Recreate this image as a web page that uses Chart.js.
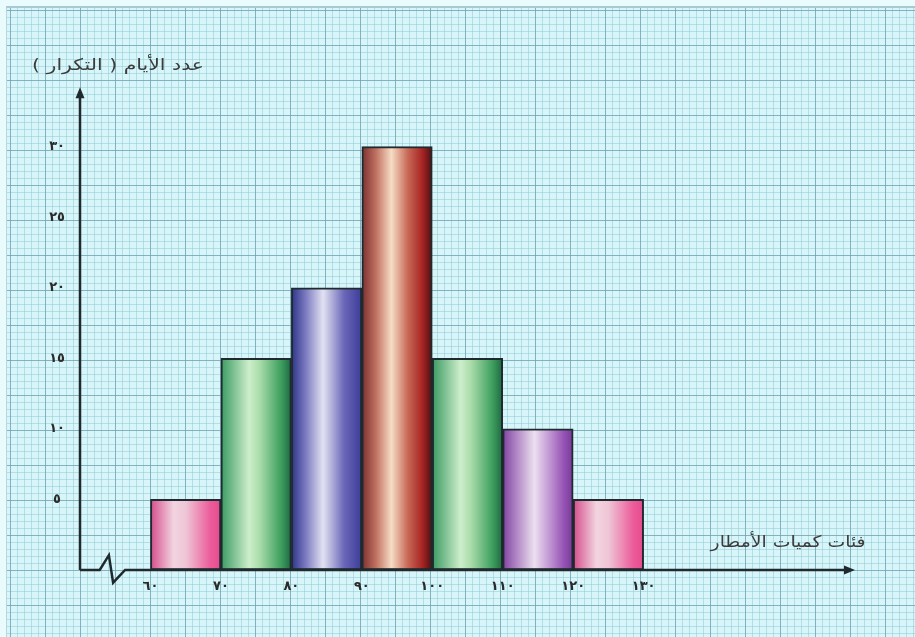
<!DOCTYPE html>
<html lang="ar">
<head>
<meta charset="utf-8">
<script src="https://cdn.jsdelivr.net/npm/chart.js@4.4.1/dist/chart.umd.min.js"></script>
<style>
  html, body { margin: 0; padding: 0; }
  body { width: 915px; height: 637px; overflow: hidden; background: #eafbfd; position: relative; }
  #paper {
    position: absolute; left: 6px; top: 6px; right: 0; bottom: 0;
    border-top: 2px solid #a9c9d1; border-left: 1px solid #b8d6dc;
    background-color: #d8f5f9;
    background-image:
      linear-gradient(to right, rgba(110,160,175,0.7) 1px, transparent 1px),
      linear-gradient(to bottom, rgba(110,160,175,0.7) 1px, transparent 1px),
      linear-gradient(to right, rgba(140,200,212,0.5) 1px, transparent 1px),
      linear-gradient(to bottom, rgba(140,200,212,0.5) 1px, transparent 1px);
    background-size: 35px 35px, 35px 35px, 7px 7px, 7px 7px;
    background-position: 3px 2px, 3px 2px, 3px 2px, 3px 2px;
  }
  #c { position: absolute; left: 0; top: 0; }
</style>
</head>
<body>
<div id="paper"></div>
<canvas id="c" width="915" height="637"></canvas>
<script>
// ---- data ----
const classStarts = [60, 70, 80, 90, 100, 110, 120];
const classWidth = 10;
const frequencies = [5, 15, 20, 30, 15, 10, 5];
const xTickValues = [60, 70, 80, 90, 100, 110, 120, 130];
const yTickValues = [5, 10, 15, 20, 25, 30];
const yTitle = 'عدد الأيام ( التكرار )';
const xTitle = 'فئات كميات الأمطار';

// ---- styles ----
const arabicDigits = ['٠','١','٢','٣','٤','٥','٦','٧','٨','٩'];
const toArabic = n => String(n).replace(/[0-9]/g, d => arabicDigits[+d]);
const pink = [[0,'#d64c8c'],[0.33,'#f2d4e0'],[0.5,'#efc6d6'],[0.85,'#ec5c9b'],[1,'#e64a8c']];
const green = [[0,'#3a9a62'],[0.4,'#cdeecb'],[0.55,'#a9dcaa'],[0.85,'#3fa05f'],[1,'#1d6842']];
const blue = [[0,'#2c3486'],[0.2,'#7a78c0'],[0.45,'#e2e2f2'],[0.75,'#6a66b8'],[1,'#3c3c98']];
const red = [[0,'#7a3030'],[0.2,'#c07060'],[0.42,'#f6dcc4'],[0.65,'#c86a58'],[0.86,'#a82424'],[1,'#4a1010']];
const purple = [[0,'#8242a2'],[0.45,'#ecdff0'],[0.85,'#9a58b8'],[1,'#763896']];
const barStops = [pink, green, blue, red, green, purple, pink];
const inkColor = '#1e2a2e';
const fontFamily = '"DejaVu Sans", sans-serif';

const points = classStarts.map((s, i) => ({ x: s + classWidth / 2, y: frequencies[i] }));

function barGradient(context) {
  const chart = context.chart;
  const i = context.dataIndex;
  const stops = barStops[i] || pink;
  if (!chart.chartArea || i === undefined) return stops[1][1];
  const xs = chart.scales.x;
  const l = xs.getPixelForValue(classStarts[i]);
  const r = xs.getPixelForValue(classStarts[i] + classWidth);
  const g = chart.ctx.createLinearGradient(l, 0, r, 0);
  stops.forEach(([o, c]) => g.addColorStop(o, c));
  return g;
}

function stretchedText(ctx, text, cx, cy, targetWidth) {
  const w = ctx.measureText(text).width;
  const k = targetWidth / w;
  ctx.save();
  ctx.translate(cx, cy);
  ctx.scale(k, 1);
  ctx.fillText(text, 0, 0);
  ctx.restore();
}

const axesPlugin = {
  id: 'axesPlugin',
  afterDatasetsDraw(chart) {
    const { ctx, scales: { x, y } } = chart;
    const y0 = y.getPixelForValue(0);
    const xL = x.getPixelForValue(50);
    const xEnd = x.getPixelForValue(160);
    const yTop = y.getPixelForValue(34.2);
    ctx.save();
    ctx.strokeStyle = inkColor;
    ctx.fillStyle = inkColor;
    ctx.lineWidth = 2.5;
    ctx.lineJoin = 'miter';
    // y axis
    ctx.beginPath();
    ctx.moveTo(xL, y0);
    ctx.lineTo(xL, yTop + 8);
    ctx.stroke();
    ctx.beginPath();
    ctx.moveTo(xL, yTop);
    ctx.lineTo(xL - 4.5, yTop + 11);
    ctx.lineTo(xL + 4.5, yTop + 11);
    ctx.closePath();
    ctx.fill();
    // x axis with break
    ctx.beginPath();
    ctx.moveTo(xL, y0);
    ctx.lineTo(x.getPixelForValue(52.8), y0);
    ctx.lineTo(x.getPixelForValue(54.1), y.getPixelForValue(1.05));
    ctx.lineTo(x.getPixelForValue(54.7), y.getPixelForValue(-0.9));
    ctx.lineTo(x.getPixelForValue(56.4), y0);
    ctx.lineTo(xEnd - 8, y0);
    ctx.stroke();
    ctx.beginPath();
    ctx.moveTo(xEnd, y0);
    ctx.lineTo(xEnd - 11, y0 - 4.5);
    ctx.lineTo(xEnd - 11, y0 + 4.5);
    ctx.closePath();
    ctx.fill();
    // titles
    ctx.fillStyle = '#3c3c3c';
    ctx.font = '16px ' + fontFamily;
    ctx.direction = 'rtl';
    ctx.textBaseline = 'middle';
    ctx.textAlign = 'center';
    stretchedText(ctx, yTitle, x.getPixelForValue(55.4), y.getPixelForValue(35.7), 172);
    stretchedText(ctx, xTitle, x.getPixelForValue(150.5), y.getPixelForValue(1.95), 155);
    ctx.restore();
  }
};

new Chart(document.getElementById('c'), {
  type: 'bar',
  data: {
    datasets: [{
      data: points,
      backgroundColor: barGradient,
      borderColor: inkColor,
      borderWidth: 2,
      borderSkipped: false,
      barPercentage: 1,
      categoryPercentage: 1
    }]
  },
  options: {
    responsive: false,
    devicePixelRatio: 1,
    animation: false,
    layout: { padding: { top: 76, right: 60, left: 0, bottom: 0 } },
    plugins: { legend: { display: false }, tooltip: { enabled: false }, title: { display: false } },
    scales: {
      x: {
        type: 'linear',
        offset: false,
        min: 50, max: 160,
        grid: { display: false, drawTicks: false, offset: false },
        border: { display: false },
        afterBuildTicks: s => { s.ticks = xTickValues.map(v => ({ value: v })); },
        afterFit: s => { s.height = 67; },
        ticks: {
          padding: 9,
          color: '#2a2a2a',
          font: { family: fontFamily, size: 13, weight: '600' },
          callback: v => toArabic(v),
          maxRotation: 0, autoSkip: false
        }
      },
      y: {
        type: 'linear',
        min: 0, max: 35,
        grid: { display: false, drawTicks: false },
        border: { display: false },
        afterBuildTicks: s => { s.ticks = yTickValues.map(v => ({ value: v })); },
        afterFit: s => { s.width = 80; },
        ticks: {
          padding: 15,
          crossAlign: 'center',
          color: '#2a2a2a',
          font: { family: fontFamily, size: 13, weight: '600' },
          callback: v => toArabic(v)
        }
      }
    }
  },
  plugins: [axesPlugin]
});
</script>
</body>
</html>
